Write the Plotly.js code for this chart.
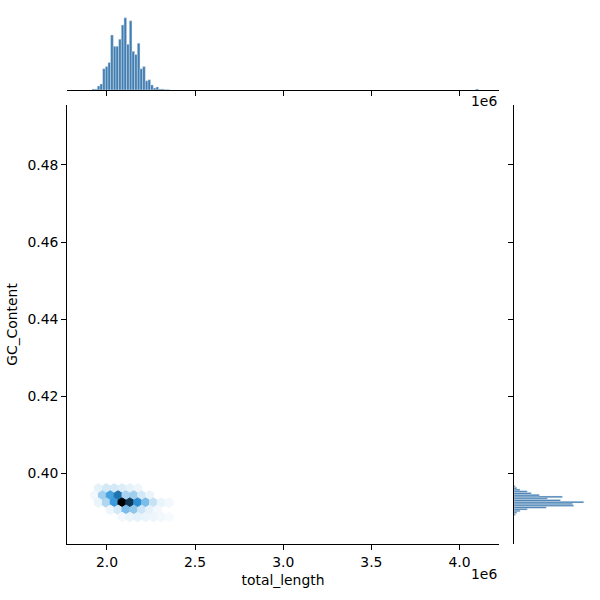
<!DOCTYPE html>
<html><head><meta charset="utf-8">
<script src="https://cdn.plot.ly/plotly-3.0.1.min.js"></script>
<style>html,body{margin:0;padding:0;background:#fff}#chart{width:600px;height:600px}</style>
</head><body><div id="chart"></div>
<script>
// ---- Top marginal histogram: total_length ----
const lengthBinCenters = [1922800, 1937920, 1953040, 1968160, 1983280, 1998400, 2013520, 2028640, 2043760, 2058880,
  2074000, 2089120, 2104240, 2119360, 2134480, 2149600, 2164720, 2179840, 2194960, 2210080,
  2225200, 2240320, 2255440, 2270560, 2285680, 2300800, 2315920, 2331040, 2346160, 4100080];
const lengthCounts = [2, 2, 8, 12, 42, 46, 54, 108, 86, 86,
  100, 128, 142, 90, 136, 76, 70, 92, 42, 46,
  18, 20, 10, 4, 6, 2, 2, 1, 1, 2];
const lengthBinWidth = 15120;

// ---- Right marginal histogram: GC_Content ----
const gcBinCenters = [0.389337, 0.389791, 0.390245, 0.390699, 0.391153, 0.391607, 0.392061, 0.392515, 0.392969,
  0.393423, 0.393877, 0.394331, 0.394785, 0.395239, 0.395693, 0.396147, 0.396601];
const gcCounts = [5, 10, 21, 46, 112, 207, 203, 242, 161, 116, 168, 88, 60, 46, 21, 10, 4];
const gcBinWidth = 0.000454;

// ---- Hexbin (gridsize 50 over the data extent) ----
const hexXMin = 1885000, hexXMax = 4113000;
const hexYMin = 0.38684, hexYMax = 0.49039;
const hexGridSize = 50;
// half-step lattice indices: x = xmin + col*sx/2, y = ymin + row*sy/2
const hexCol = [3,5,7,9,11,13,  2,4,6,8,10,12,14,16,  3,5,7,9,11,13,15,17,19,21,  6,8,10,12,14,16,18,  9,11,13,15,17,19,21];
const hexRow = [5,5,5,5,5,5,    4,4,4,4,4,4,4,4,      3,3,3,3,3,3,3,3,3,3,      2,2,2,2,2,2,2,        1,1,1,1,1,1,1];
const hexCount = [13,21,21,17,13,9,  7,45,85,120,41,45,21,11,  11,37,91,200,160,101,61,27,11,7,  9,21,61,51,25,13,7,  7,11,13,11,9,7,5];
const hexCountMin = 1;

// ---- Axes ticks ----
const xTickVals = [2.0e6, 2.5e6, 3.0e6, 3.5e6, 4.0e6];
const xTickText = ['2.0', '2.5', '3.0', '3.5', '4.0'];
const yTickVals = [0.40, 0.42, 0.44, 0.46, 0.48];
const yTickText = ['0.40', '0.42', '0.44', '0.46', '0.48'];

// seaborn hex colormap: hue of #1f77b4, lightness 1 -> 0
function hls2rgb(h, l, s) {
  if (s === 0) return [l, l, l];
  const m2 = l <= 0.5 ? l * (1 + s) : l + s - l * s;
  const m1 = 2 * l - m2;
  const v = (hh) => {
    hh = ((hh % 1) + 1) % 1;
    if (hh < 1/6) return m1 + (m2 - m1) * hh * 6;
    if (hh < 0.5) return m2;
    if (hh < 2/3) return m1 + (m2 - m1) * (2/3 - hh) * 6;
    return m1;
  };
  return [v(h + 1/3), v(h), v(h - 1/3)];
}
const baseH = 204.6 / 360, baseS = 0.7061;
const cmapStops = [];
for (let i = 0; i < 12; i++) cmapStops.push(hls2rgb(baseH, 1 - i / 11, baseS).map(c => Math.min(1, Math.max(0, c))));
function cmap(t) {
  t = Math.min(1, Math.max(0, t));
  const p = t * 11, i = Math.min(10, Math.floor(p)), f = p - i;
  const a = cmapStops[i], b = cmapStops[i + 1];
  const c = a.map((v, j) => Math.round(255 * (v + (b[j] - v) * f)));
  return `rgb(${c[0]},${c[1]},${c[2]})`;
}

const traces = [];
const sx = (hexXMax - hexXMin) / hexGridSize;
const ny = Math.floor(hexGridSize / Math.sqrt(3));
const sy = (hexYMax - hexYMin) / ny;
const cMax = Math.max(...hexCount);
const hxOff = [0.5, 0.5, 0, -0.5, -0.5, 0, 0.5];
const hyOff = [-0.5, 0.5, 1, 0.5, -0.5, -1, -0.5];
for (let i = 0; i < hexCount.length; i++) {
  const cx = hexXMin + hexCol[i] * sx / 2;
  const cy = hexYMin + hexRow[i] * sy / 2;
  const col = cmap((hexCount[i] - hexCountMin) / (cMax - hexCountMin));
  traces.push({
    type: 'scatter', mode: 'lines', xaxis: 'x', yaxis: 'y',
    x: hxOff.map(f => cx + f * sx), y: hyOff.map(f => cy + f * sy / 3),
    fill: 'toself', fillcolor: col, line: {color: col, width: 1},
    hoverinfo: 'skip', showlegend: false
  });
}

const barFill = '#3f7db3';
traces.push({
  type: 'bar', xaxis: 'x3', yaxis: 'y2',
  x: lengthBinCenters, y: lengthCounts, width: lengthBinWidth,
  marker: {color: barFill, line: {color: 'rgba(225,230,235,0.9)', width: 0.5}},
  hoverinfo: 'skip', showlegend: false
});
traces.push({
  type: 'bar', orientation: 'h', xaxis: 'x2', yaxis: 'y3',
  y: gcBinCenters, x: gcCounts, width: gcBinWidth,
  marker: {color: barFill, line: {color: 'rgba(225,230,235,0.9)', width: 0.5}},
  hoverinfo: 'skip', showlegend: false
});

const xRange = [1773500, 4224200];
const yRange = [0.38166, 0.49556];
const xDom = [67 / 600, 499 / 600];
const yDom = [(600 - 544) / 600, (600 - 105) / 600];
const axCommon = {
  showline: true, linecolor: '#000', linewidth: 1, ticks: 'outside', ticklen: 4.9,
  tickwidth: 1, tickcolor: '#000', showgrid: false, zeroline: false, fixedrange: true
};
const fnt = {family: 'DejaVu Sans', size: 13.9, color: '#000'};

const layout = {
  width: 600, height: 600, margin: {l: 0, r: 0, t: 0, b: 0},
  paper_bgcolor: '#fff', plot_bgcolor: 'rgba(0,0,0,0)', showlegend: false, bargap: 0,
  font: fnt,
  xaxis: Object.assign({}, axCommon, {
    domain: xDom, anchor: 'y', range: xRange, tickmode: 'array', tickvals: xTickVals, ticktext: xTickText,
    tickfont: fnt, title: {text: 'total_length', font: fnt, standoff: 6}, automargin: false
  }),
  yaxis: Object.assign({}, axCommon, {
    domain: yDom, anchor: 'x', range: yRange, tickmode: 'array', tickvals: yTickVals, ticktext: yTickText,
    tickfont: fnt, title: {text: 'GC_Content', font: fnt, standoff: 6}, automargin: false
  }),
  xaxis3: Object.assign({}, axCommon, {
    domain: xDom, anchor: 'y2', range: xRange, tickmode: 'array', tickvals: xTickVals, showticklabels: false
  }),
  yaxis2: {domain: [(600 - 90) / 600, (600 - 14.2) / 600], anchor: 'x3',
    range: [0, 1.05 * Math.max(...lengthCounts)], visible: false, fixedrange: true},
  xaxis2: {domain: [514 / 600, 587.2 / 600], anchor: 'y3',
    range: [0, 1.05 * Math.max(...gcCounts)], visible: false, fixedrange: true},
  yaxis3: Object.assign({}, axCommon, {
    domain: yDom, anchor: 'x2', range: yRange, tickmode: 'array', tickvals: yTickVals, showticklabels: false
  }),
  annotations: [
    {text: '1e6', xref: 'paper', yref: 'paper', x: 499 / 600, y: (600 - 574) / 600, xanchor: 'right', yanchor: 'middle', showarrow: false, font: fnt},
    {text: '1e6', xref: 'paper', yref: 'paper', x: 499 / 600, y: (600 - 101) / 600, xanchor: 'right', yanchor: 'middle', showarrow: false, font: fnt}
  ]
};

Plotly.newPlot('chart', traces, layout, {displayModeBar: false, staticPlot: true});
</script></body></html>
